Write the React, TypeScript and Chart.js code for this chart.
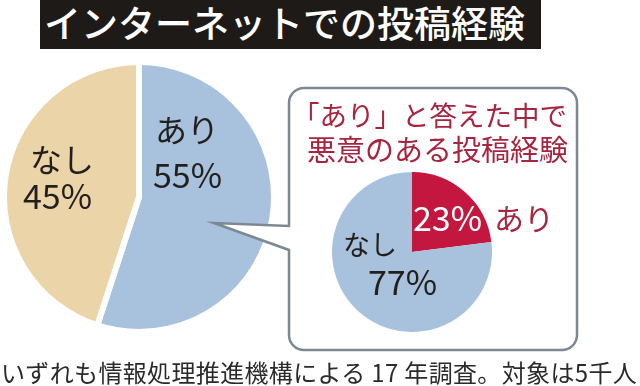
import React, { useEffect, useRef } from "react";
import { Chart, registerables } from "chart.js";

Chart.register(...registerables);

const TITLE = "インターネットでの投稿経験";
const mainLabels = ["あり", "なし"];
const mainValues = [55, 45];
const mainColors = ["#a8c1dd", "#ecd4a9"];

const subTitle1 = "「あり」と答えた中で";
const subTitle2 = "悪意のある投稿経験";
const subLabels = ["あり", "なし"];
const subValues = [23, 77];
const subColors = ["#c3173f", "#a8c1dd"];

const NOTE = "いずれも情報処理推進機構による 17 年調査。対象は5千人";

const FONT = "'Noto Sans CJK JP', 'Noto Sans', sans-serif";

const calloutPlugin = {
  id: "callout",
  afterDraw(chart: any) {
    const ctx = chart.ctx as CanvasRenderingContext2D;
    const L = 289, T = 88, R = 577, B = 350, r = 15;
    ctx.save();
    ctx.beginPath();
    ctx.moveTo(L + r, T);
    ctx.lineTo(R - r, T);
    ctx.arcTo(R, T, R, T + r, r);
    ctx.lineTo(R, B - r);
    ctx.arcTo(R, B, R - r, B, r);
    ctx.lineTo(L + r, B);
    ctx.arcTo(L, B, L, B - r, r);
    ctx.lineTo(L, 250);
    ctx.lineTo(214, 223);
    ctx.lineTo(L, 226);
    ctx.lineTo(L, T + r);
    ctx.arcTo(L, T, L + r, T, r);
    ctx.closePath();
    ctx.fillStyle = "#ffffff";
    ctx.fill();
    ctx.lineWidth = 2.5;
    ctx.strokeStyle = "#7d8892";
    ctx.lineJoin = "miter";
    ctx.stroke();
    ctx.restore();
  },
};

function Label(props: { text: string; left: number; cy: number; size: number; color: string; weight?: number; spacing?: number }) {
  const { text, left, cy, size, color, weight, spacing } = props;
  return (
    <div
      style={{
        position: "absolute",
        left,
        top: cy - size * 0.56,
        fontSize: size,
        lineHeight: `${size}px`,
        height: size,
        color,
        fontFamily: FONT,
        fontWeight: weight ?? 400,
        whiteSpace: "nowrap",
        letterSpacing: spacing ?? 0,
      }}
    >
      {text}
    </div>
  );
}

export default function App() {
  const bigRef = useRef<HTMLCanvasElement | null>(null);
  const smallRef = useRef<HTMLCanvasElement | null>(null);

  useEffect(() => {
    const big = new Chart(bigRef.current as HTMLCanvasElement, {
      type: "pie",
      data: {
        labels: mainLabels,
        datasets: [
          {
            data: mainValues,
            backgroundColor: mainColors,
            borderColor: "#ffffff",
            borderWidth: 6,
          },
        ],
      },
      options: {
        responsive: false,
        animation: false,
        events: [],
        layout: { padding: { left: 1, top: 59, right: 363, bottom: 51 } },
        plugins: { legend: { display: false }, tooltip: { enabled: false }, title: { display: false } },
      },
      plugins: [calloutPlugin],
    });
    const small = new Chart(smallRef.current as HTMLCanvasElement, {
      type: "pie",
      data: {
        labels: subLabels,
        datasets: [
          {
            data: subValues,
            backgroundColor: subColors,
            borderWidth: 0,
          },
        ],
      },
      options: {
        responsive: false,
        animation: false,
        events: [],
        layout: { padding: 0 },
        plugins: { legend: { display: false }, tooltip: { enabled: false }, title: { display: false } },
      },
    });
    return () => {
      big.destroy();
      small.destroy();
    };
  }, []);

  return (
    <div style={{ position: "fixed", left: 0, top: 0, width: 640, height: 386, background: "#ffffff", overflow: "hidden" }}>
      <canvas ref={bigRef} width={640} height={386} style={{ position: "absolute", left: 0, top: 0, width: 640, height: 386 }} />
      <canvas ref={smallRef} width={160} height={160} style={{ position: "absolute", left: 332, top: 172, width: 160, height: 160 }} />
      <div style={{ position: "absolute", left: 40, top: 0, width: 501, height: 49, background: "#1e1a18" }} />
      <Label text={TITLE} left={44} cy={25} size={37} color="#ffffff" weight={500} />
      <Label text={mainLabels[0]} left={155} cy={130} size={32} color="#231f1c" />
      <Label text={`${mainValues[0]}%`} left={153} cy={176} size={34} color="#231f1c" />
      <Label text={mainLabels[1]} left={30} cy={160} size={32} color="#231f1c" />
      <Label text={`${mainValues[1]}%`} left={23} cy={197} size={34} color="#231f1c" />
      <Label text={subTitle1} left={292} cy={116} size={27.5} color="#a8243f" />
      <Label text={subTitle2} left={307} cy={150} size={29} color="#a8243f" />
      <Label text={`${subValues[0]}%`} left={413} cy={219} size={34} color="#ffffff" />
      <Label text={subLabels[0]} left={494} cy={219} size={30} color="#a8243f" />
      <Label text={subLabels[1]} left={343} cy={245} size={27} color="#231f1c" />
      <Label text={`${subValues[1]}%`} left={368} cy={283} size={34} color="#231f1c" />
      <Label text={NOTE} left={1} cy={373} size={24} color="#2a2a2a" spacing={0.35} />
    </div>
  );
}
